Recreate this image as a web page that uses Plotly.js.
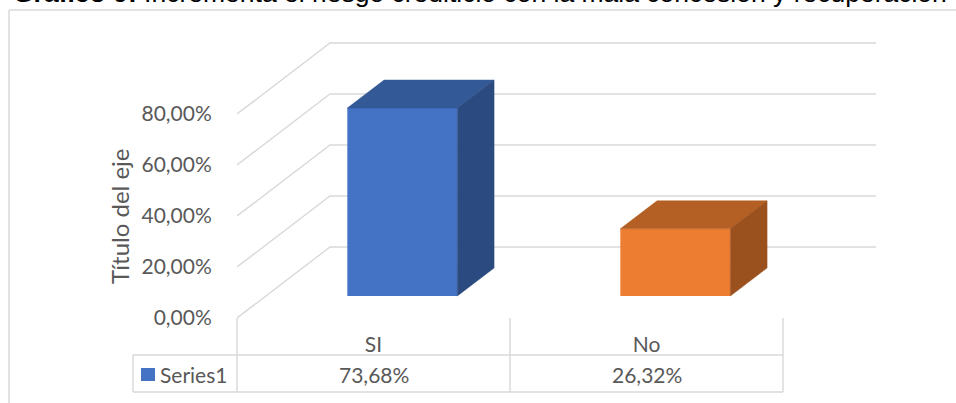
<!DOCTYPE html>
<html><head><meta charset="utf-8">
<script src="https://cdn.plot.ly/plotly-3.0.1.min.js"></script>
<style>html,body{margin:0;padding:0;background:#fff;overflow:hidden}</style>
</head><body><div id="chart" style="width:956px;height:403px"></div>
<script>
// ---- data ----
const categories = ['SI', 'No'];
const values = [73.68, 26.32];
const seriesName = 'Series1';
const yTicks = [0, 20, 40, 60, 80];
const chartTitle = '<b>Gráfico 9:</b> Incrementa el riesgo crediticio con la mala concesión y recuperación';
const axisTitle = 'Título del eje';
const frontColors = ['#4472C4', '#ED7D31'];
const topColors = ['#335996', '#B45F23'];
const sideColors = ['#2B4A7F', '#9A511E'];

const fmtPct = v => v.toFixed(2).replace('.', ',') + '%';
const yTickText = yTicks.map(fmtPct);

// ---- geometry (style) ----
const W = 956, H = 403;
const M = {l: 237, r: 80, t: 30, b: 85};
const plotW = W - M.l - M.r, plotH = H - M.t - M.b;
const pxPerX = 273, pxPerY = 2.55;
const xRange = [-0.5, -0.5 + plotW / pxPerX];
const yRange = [0, plotH / pxPerY];
const depth = {dx: 93 / pxPerX, dy: 71 / pxPerY};
const barFront = 0.31, barBack = 0.705, barWidth = 0.403;
const gridColor = '#d9d9d9', textColor = '#595959';
const fontFam = 'Lato, "Open Sans", sans-serif';
const fs = 21;

const px2paperX = px => (px - M.l) / plotW;
const py2paperY = py => (M.t + plotH - py) / plotH;
const x2paper = x => (x - xRange[0]) / (xRange[1] - xRange[0]);

// gridlines (3D wall) as shapes below traces
const shapes = [];
const xFrontL = -0.5, xFrontR = categories.length - 0.5;
yTicks.forEach(v => {
  shapes.push({type: 'path', xref: 'x', yref: 'y', layer: 'below',
    path: `M ${xFrontL},${v} L ${xFrontL + depth.dx},${v + depth.dy} L ${xFrontR + depth.dx},${v + depth.dy}`,
    line: {color: gridColor, width: 1.4}});
});

// table lines
const tableTop = 318, rowSep = 355, tableBot = 392, tableLeft = 133;
const line = (x0, y0, x1, y1) => ({type: 'line', xref: 'paper', yref: 'paper',
  x0: x0, y0: y0, x1: x1, y1: y1, line: {color: gridColor, width: 1.4}});
for (let k = 0; k <= categories.length; k++) {
  const xp = x2paper(k - 0.5);
  shapes.push(line(xp, py2paperY(tableTop), xp, py2paperY(tableBot)));
}
shapes.push(line(px2paperX(tableLeft), py2paperY(rowSep), px2paperX(tableLeft), py2paperY(tableBot)));
shapes.push(line(px2paperX(tableLeft), py2paperY(rowSep), x2paper(xFrontR), py2paperY(rowSep)));
shapes.push(line(px2paperX(tableLeft), py2paperY(tableBot), x2paper(xFrontR), py2paperY(tableBot)));
// legend key square
shapes.push({type: 'rect', xref: 'paper', yref: 'paper',
  x0: px2paperX(141), x1: px2paperX(155), y0: py2paperY(381), y1: py2paperY(368),
  fillcolor: frontColors[0], line: {width: 0}});
// chart border
shapes.push({type: 'line', xref: 'paper', yref: 'paper', x0: px2paperX(9), x1: px2paperX(9),
  y0: py2paperY(10), y1: py2paperY(H + 5), line: {color: gridColor, width: 1.5}});
shapes.push({type: 'line', xref: 'paper', yref: 'paper', x0: px2paperX(9), x1: px2paperX(W + 5),
  y0: py2paperY(10), y1: py2paperY(10), line: {color: gridColor, width: 1.5}});

// traces
const xs = categories.map((c, i) => i);
const base = barFront * depth.dy;
const shiftX = barFront * depth.dx;
const traces = [{
  type: 'bar', x: xs.map(i => i + shiftX), y: values, base: values.map(() => base),
  width: barWidth, marker: {color: frontColors, line: {width: 0}}, hoverinfo: 'skip', showlegend: false
}];
const ddx = (barBack - barFront) * depth.dx, ddy = (barBack - barFront) * depth.dy;
values.forEach((v, i) => {
  const xl = i + shiftX - barWidth / 2, xr = i + shiftX + barWidth / 2;
  const yb = base, yt = base + v;
  traces.push({type: 'scatter', mode: 'lines', fill: 'toself', fillcolor: topColors[i],
    x: [xl, xr, xr + ddx, xl + ddx, xl], y: [yt, yt, yt + ddy, yt + ddy, yt],
    line: {width: 0.5, color: topColors[i]}, hoverinfo: 'skip', showlegend: false});
  traces.push({type: 'scatter', mode: 'lines', fill: 'toself', fillcolor: sideColors[i],
    x: [xr, xr + ddx, xr + ddx, xr, xr], y: [yt, yt + ddy, yb + ddy, yb, yt],
    line: {width: 0.5, color: sideColors[i]}, hoverinfo: 'skip', showlegend: false});
});

const annotations = [];
values.forEach((v, i) => {
  annotations.push({xref: 'x', yref: 'paper', x: i, y: py2paperY(374), yanchor: 'middle',
    text: fmtPct(v), showarrow: false,
    font: {family: fontFam, size: fs, color: textColor}});
});
annotations.push({xref: 'paper', yref: 'paper', x: px2paperX(158), y: py2paperY(374), xanchor: 'left', yanchor: 'middle',
  text: seriesName, showarrow: false, font: {family: fontFam, size: fs, color: textColor}});
annotations.push({xref: 'paper', yref: 'paper', x: px2paperX(119), y: py2paperY(217), xanchor: 'center', yanchor: 'middle',
  text: axisTitle, textangle: -90, showarrow: false, font: {family: fontFam, size: 24, color: textColor}});
annotations.push({xref: 'paper', yref: 'paper', x: px2paperX(11), y: py2paperY(10), xanchor: 'left', yanchor: 'bottom',
  text: chartTitle, showarrow: false, font: {family: '"Liberation Sans", Arial, sans-serif', size: 26.5, color: '#000'}});

const layout = {
  width: W, height: H, margin: M, paper_bgcolor: '#fff', plot_bgcolor: 'rgba(0,0,0,0)',
  showlegend: false, hovermode: false,
  xaxis: {range: xRange, tickvals: xs, ticktext: categories, showgrid: false, zeroline: false, showline: false,
    ticks: 'outside', ticklen: 8, tickcolor: 'rgba(0,0,0,0)', automargin: false,
    tickfont: {family: fontFam, size: fs, color: textColor}, fixedrange: true},
  yaxis: {range: yRange, tickvals: yTicks, ticktext: yTickText, showgrid: false, zeroline: false,
    showline: false, ticks: 'outside', ticklen: 20, tickcolor: 'rgba(0,0,0,0)', automargin: false,
    tickfont: {family: fontFam, size: fs, color: textColor}, fixedrange: true},
  shapes: shapes, annotations: annotations
};
Plotly.newPlot('chart', traces, layout, {displayModeBar: false, staticPlot: true});
</script></body></html>
